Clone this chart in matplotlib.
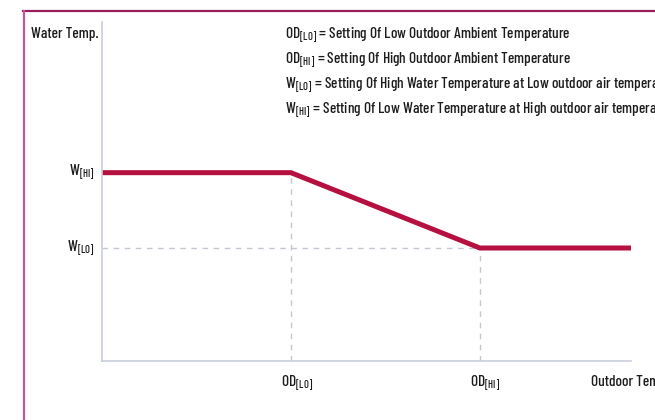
import matplotlib
matplotlib.use("Agg")
import matplotlib.pyplot as plt
from matplotlib import font_manager

names = {f.name for f in font_manager.fontManager.ttflist}
cond = next((n for n in ["Barlow Condensed", "Roboto Condensed", "Liberation Sans Narrow"] if n in names), "DejaVu Sans")
plt.rcParams["font.family"] = [cond, "DejaVu Sans"]
plt.rcParams["font.weight"] = "medium"
plt.rcParams["mathtext.fontset"] = "custom"
plt.rcParams["mathtext.rm"] = cond + ":medium"

# curve points (outdoor temp, water temp) in nominal units
outdoor = [0, 1, 2, 2.8]
water = [5, 5, 3, 3]
od_lo, od_hi = 1, 2
w_lo, w_hi = 3, 5
legend_lines = [
    r"OD$_\mathregular{[LO]}$ = Setting Of Low Outdoor Ambient Temperature",
    r"OD$_\mathregular{[HI]}$ = Setting Of High Outdoor Ambient Temperature",
    r"W$_\mathregular{[LO]}$ = Setting Of High Water Temperature at Low outdoor air temperature",
    r"W$_\mathregular{[HI]}$ = Setting Of Low Water Temperature at High outdoor air temperature",
]

fig = plt.figure(figsize=(6.55, 4.2), dpi=100)
ax = fig.add_axes([102 / 655, 59 / 420, 529 / 655, 339 / 420])
ax.set_xlim(0, 2.8)
ax.set_ylim(0, 9)

axis_col = "#c9cedb"
dash_col = "#c3c7d2"
ax.plot([od_lo, od_lo], [0, w_hi], ls=(0, (4, 4)), color=dash_col, lw=1)
ax.plot([od_hi, od_hi], [0, w_lo], ls=(0, (4, 4)), color=dash_col, lw=1)
ax.plot([0, od_hi], [w_lo, w_lo], ls=(0, (4, 4)), color=dash_col, lw=1)
ax.plot(outdoor, water, color="#b5103f", lw=3.6, solid_joinstyle="miter", solid_capstyle="butt")

for s in ["top", "right"]:
    ax.spines[s].set_visible(False)
for s in ["left", "bottom"]:
    ax.spines[s].set_color(axis_col)
    ax.spines[s].set_linewidth(1.2)
ax.set_xticks([])
ax.set_yticks([])

txt = dict(color="#1c1c1c", fontsize=11)
ax.text(-0.04, w_hi, r"W$_\mathregular{[HI]}$", ha="right", va="center", **txt)
ax.text(-0.04, w_lo, r"W$_\mathregular{[LO]}$", ha="right", va="center", **txt)
ax.text(od_lo + 0.03, -0.6, r"OD$_\mathregular{[LO]}$", ha="center", va="center", **txt)
ax.text(od_hi + 0.03, -0.6, r"OD$_\mathregular{[HI]}$", ha="center", va="center", **txt)
fig.text(591 / 655, 1 - 382 / 420, "Outdoor Temp.", ha="left", va="center", **txt)
fig.text(31 / 655, 1 - 34 / 420, "Water Temp.", ha="left", va="center", **txt)
for i, line in enumerate(legend_lines):
    fig.text(285 / 655, 1 - (35 + 25 * i) / 420, line, ha="left", va="center", **txt)

# outer frame
fig.add_artist(plt.Line2D([23 / 655, 1], [1 - 10.5 / 420] * 2, color="#9c1d5c", lw=1.6, transform=fig.transFigure))
fig.add_artist(plt.Line2D([23.5 / 655] * 2, [0, 1 - 10.5 / 420], color="#c4559c", lw=1.6, transform=fig.transFigure))

fig.savefig("out.png", dpi=100)
